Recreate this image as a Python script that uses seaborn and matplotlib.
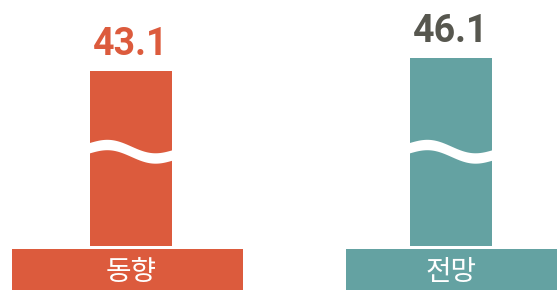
import numpy as np
import pandas as pd
import matplotlib
matplotlib.use("Agg")
import matplotlib.pyplot as plt
import seaborn as sns

# data
categories = ["동향", "전망"]
values = [43.1, 46.1]
bar_colors = ["#DC5B3D", "#64A2A2"]
value_colors = ["#DC5B3D", "#57574F"]

sns.set_theme(style="white")
plt.rcParams["font.family"] = ["Noto Sans CJK KR", "DejaVu Sans"]

df = pd.DataFrame({"category": categories, "value": values})

# layout (pixel scale helpers)
W, H = 557, 290
K = 4.07            # px per value unit
BASE_PX = 44        # baseline height above bottom edge, px
X_STEP = 320        # px between bar centres
X0_PX = 131         # first bar centre, px

fig = plt.figure(figsize=(W / 100, H / 100), dpi=100)
ax = fig.add_axes([0, 0, 1, 1])

sns.barplot(data=df, x="category", y="value", hue="category",
            palette=bar_colors, width=82 / X_STEP, legend=False,
            linewidth=0, saturation=1, ax=ax)

ax.set_xlim(-X0_PX / X_STEP, (W - X0_PX) / X_STEP)
ax.set_ylim(-BASE_PX / K, (H - BASE_PX) / K)
ax.axis("off")

px = 1 / K  # one pixel in value units

# value labels above bars
for i, (v, c) in enumerate(zip(values, value_colors)):
    ax.text(i, v + 16 * px, f"{v}", ha="center", va="baseline",
            fontsize=27, fontweight="bold", color=c, family=["Roboto", "DejaVu Sans"])

# wavy break mark across each bar (pixel rows measured from top)
bar_w = 82 / X_STEP
t = np.linspace(0, 1, 200)
mid_px = 148 + 6.5 * t - 5 * np.sin(2 * np.pi * t)
upper = (H - BASE_PX - (mid_px - 5.2)) * px
lower = (H - BASE_PX - (mid_px + 5.2)) * px
for i in range(len(values)):
    xs = i - bar_w / 2 - 0.005 + t * (bar_w + 0.01)
    ax.fill_between(xs, lower, upper, color="white", linewidth=0, zorder=3)

# category label boxes under the bars
box_spans = [(-0.372, 0.35), (-0.328, 0.40)]
box_bottom = -BASE_PX * px
box_top = -3 * px
for i, (cat, c, (l, r)) in enumerate(zip(categories, bar_colors, box_spans)):
    ax.fill_between([i + l, i + r], box_bottom, box_top, color=c, linewidth=0,
                    zorder=2, clip_on=False)
    ax.text(i, box_bottom + 17.5 * px, cat, ha="center", va="center",
            fontsize=20, color="white", zorder=4)

fig.savefig("out.png", dpi=100)
